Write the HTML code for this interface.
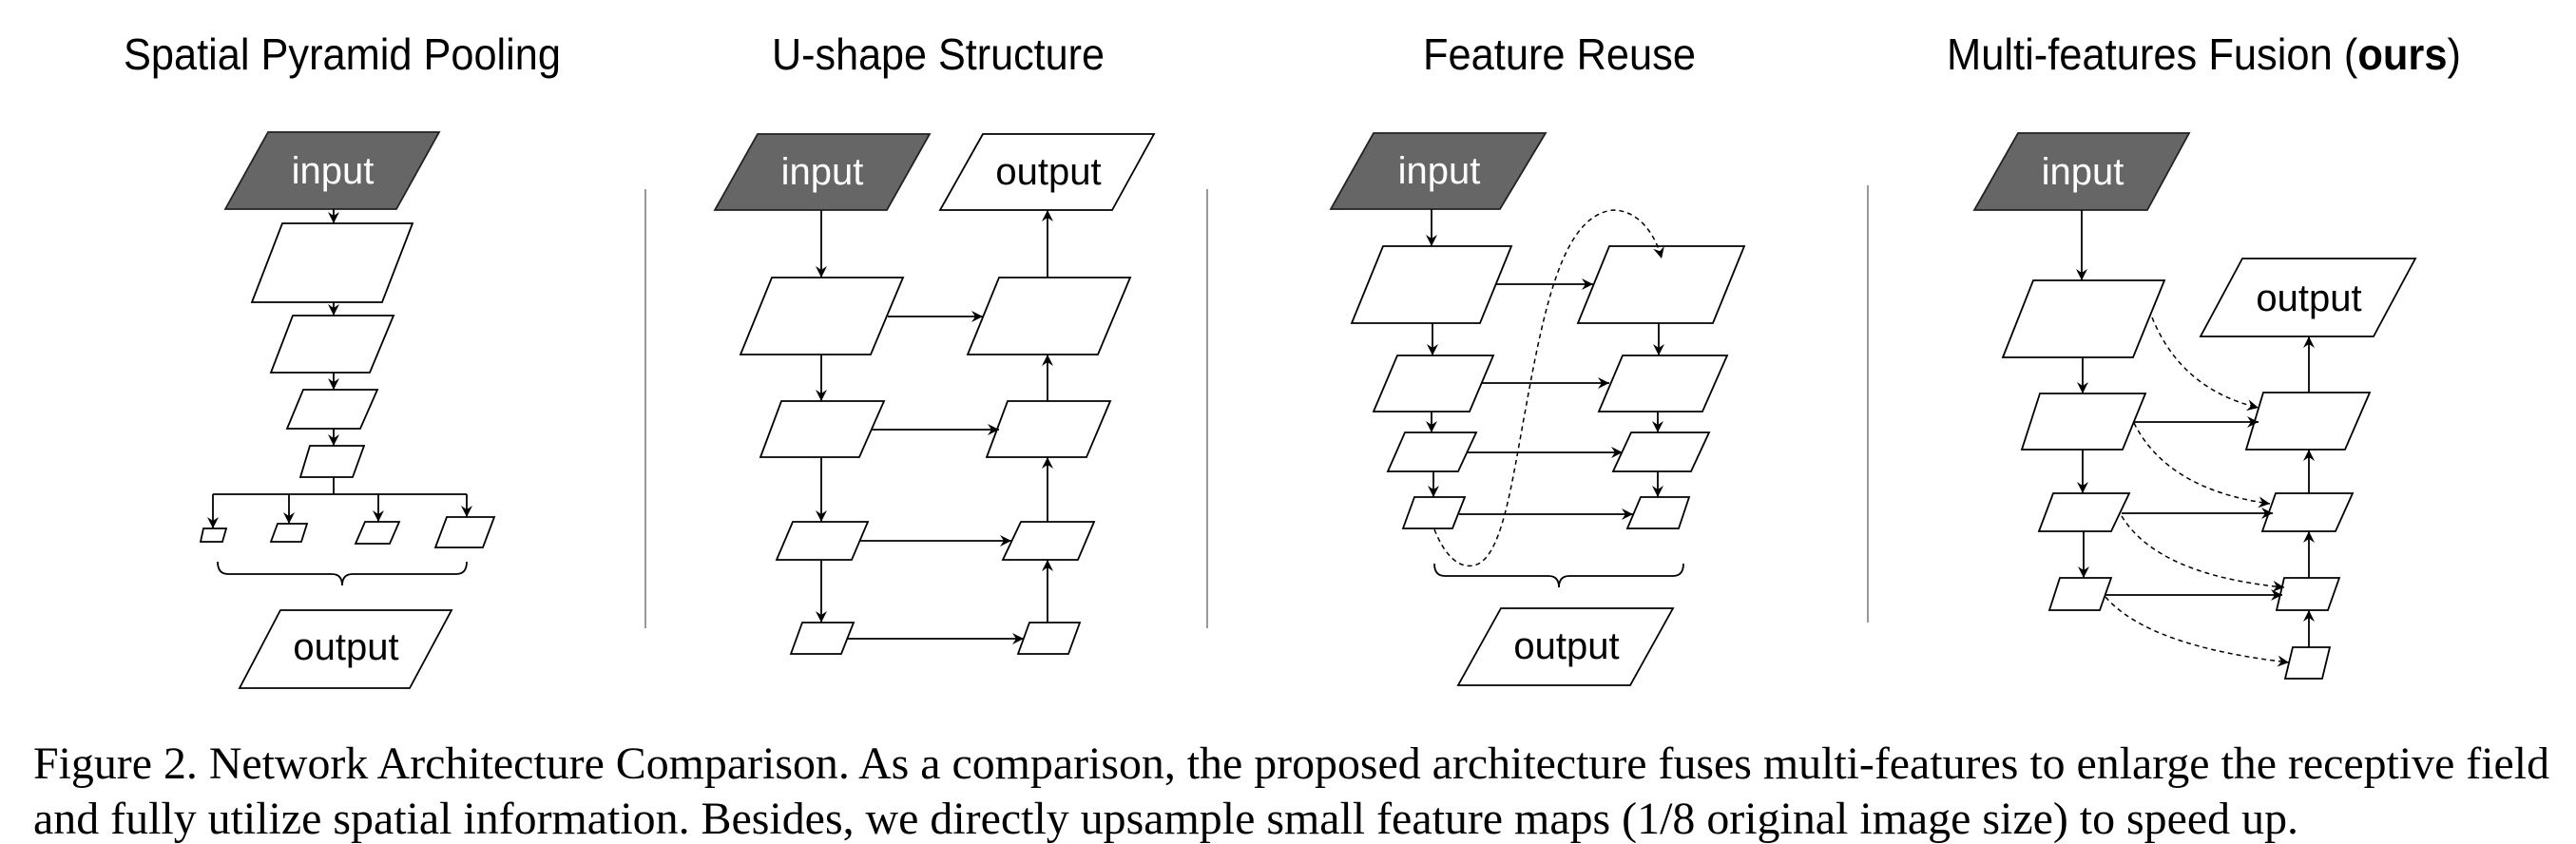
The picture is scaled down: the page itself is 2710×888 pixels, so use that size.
<!DOCTYPE html>
<html><head><meta charset="utf-8"><style>
html,body{margin:0;padding:0;background:#fff;}
svg{display:block;}
</style></head><body>
<svg width="2710" height="888" viewBox="0 0 2710 888" xmlns="http://www.w3.org/2000/svg">
<defs>
<marker id="a" markerWidth="14" markerHeight="12" refX="12" refY="6" orient="auto" markerUnits="userSpaceOnUse">
<path d="M0,0 L12,6 L0,12 L4,6 z" fill="#000"/>
</marker>
</defs>
<g font-family="Liberation Sans, Arial, sans-serif" fill="#000">
<text x="130" y="73" font-size="46" textLength="460" lengthAdjust="spacingAndGlyphs">Spatial Pyramid Pooling</text>
<text x="812" y="73" font-size="46" textLength="350" lengthAdjust="spacingAndGlyphs">U-shape Structure</text>
<text x="1497" y="73" font-size="46" textLength="287" lengthAdjust="spacingAndGlyphs">Feature Reuse</text>
<text x="2048" y="73" font-size="46" textLength="541" lengthAdjust="spacingAndGlyphs">Multi-features Fusion (<tspan font-weight="bold">ours</tspan>)</text>
</g>
<g stroke="#999" stroke-width="2">
<line x1="679" y1="199" x2="679" y2="661"/>
<line x1="1270" y1="199" x2="1270" y2="661"/>
<line x1="1965" y1="195" x2="1965" y2="655"/>
</g>
<g stroke="#000" stroke-width="1.8" fill="#fff">
<polygon points="282,139 462,139 417,220 237,220" fill="#666" stroke="#222"/>
<polygon points="297,235 434,235 402,318 265,318"/>
<polygon points="308,332 414,332 389,392 285,392"/>
<polygon points="319,410 397,410 379,451 302,451"/>
<polygon points="326,469 383,469 371,502 316,502"/>
<polygon points="214,556 238,556 234,570 211,570"/>
<polygon points="292,551 323,551 317,570 285,570"/>
<polygon points="384,549 420,549 410,572 374,572"/>
<polygon points="470,544 520,544 508,576 458,576"/>
<polygon points="295,642 475,642 431,724 252,724"/>
<polygon points="797,141 978,141 933,221 752,221" fill="#666" stroke="#222"/>
<polygon points="1034,141 1214,141 1170,221 989,221"/>
<polygon points="812,292 950,292 916,373 779,373"/>
<polygon points="1051,292 1189,292 1155,373 1018,373"/>
<polygon points="822,422 930,422 904,481 800,481"/>
<polygon points="1060,422 1168,422 1143,481 1038,481"/>
<polygon points="834,549 913,549 896,589 817,589"/>
<polygon points="1074,549 1151,549 1134,589 1055,589"/>
<polygon points="844,655 898,655 885,688 832,688"/>
<polygon points="1083,655 1136,655 1124,688 1071,688"/>
<polygon points="1445,140 1626,140 1578,220 1400,220" fill="#666" stroke="#222"/>
<polygon points="1455,259 1590,259 1557,340 1422,340"/>
<polygon points="1693,259 1835,259 1802,340 1660,340"/>
<polygon points="1470,374 1571,374 1546,433 1445,433"/>
<polygon points="1707,374 1817,374 1791,433 1682,433"/>
<polygon points="1478,455 1553,455 1534,496 1460,496"/>
<polygon points="1716,455 1798,455 1779,496 1697,496"/>
<polygon points="1488,523 1541,523 1528,556 1476,556"/>
<polygon points="1726,523 1777,523 1766,556 1712,556"/>
<polygon points="1579,640 1760,640 1715,721 1534,721"/>
<polygon points="2123,140 2303,140 2259,221 2077,221" fill="#666" stroke="#222"/>
<polygon points="2139,295 2277,295 2244,376 2107,376"/>
<polygon points="2146,414 2257,414 2233,473 2127,473"/>
<polygon points="2160,519 2240,519 2221,559 2145,559"/>
<polygon points="2167,608 2221,608 2209,642 2156,642"/>
<polygon points="2359,272 2541,272 2497,354 2315,354"/>
<polygon points="2381,413 2493,413 2467,473 2363,473"/>
<polygon points="2394,519 2475,519 2457,559 2380,559"/>
<polygon points="2403,608 2461,608 2449,642 2395,642"/>
<polygon points="2412,681 2451,681 2443,714 2404,714"/>
</g>
<g stroke="#000" stroke-width="1.8" fill="none" marker-end="url(#a)">
<line x1="351" y1="220" x2="351" y2="235"/>
<line x1="351" y1="318" x2="351" y2="332"/>
<line x1="351" y1="392" x2="351" y2="410"/>
<line x1="351" y1="451" x2="351" y2="469"/>
<line x1="224" y1="520" x2="224" y2="556"/>
<line x1="304" y1="520" x2="304" y2="551"/>
<line x1="398" y1="520" x2="398" y2="549"/>
<line x1="491" y1="520" x2="491" y2="544"/>
<line x1="864" y1="221" x2="864" y2="292"/>
<line x1="864" y1="373" x2="864" y2="422"/>
<line x1="864" y1="481" x2="864" y2="549"/>
<line x1="864" y1="589" x2="864" y2="655"/>
<line x1="1102" y1="292" x2="1102" y2="221"/>
<line x1="1102" y1="422" x2="1102" y2="373"/>
<line x1="1102" y1="549" x2="1102" y2="481"/>
<line x1="1102" y1="655" x2="1102" y2="589"/>
<line x1="934" y1="333" x2="1034" y2="333"/>
<line x1="917" y1="452" x2="1051" y2="452"/>
<line x1="905" y1="569" x2="1064" y2="569"/>
<line x1="892" y1="672" x2="1077" y2="672"/>
<line x1="1506" y1="220" x2="1506" y2="259"/>
<line x1="1507" y1="340" x2="1507" y2="374"/>
<line x1="1506" y1="433" x2="1506" y2="455"/>
<line x1="1508" y1="496" x2="1508" y2="523"/>
<line x1="1745" y1="340" x2="1745" y2="374"/>
<line x1="1744" y1="433" x2="1744" y2="455"/>
<line x1="1744" y1="496" x2="1744" y2="523"/>
<line x1="1574" y1="299" x2="1676" y2="299"/>
<line x1="1559" y1="403" x2="1693" y2="403"/>
<line x1="1543" y1="476" x2="1707" y2="476"/>
<line x1="1535" y1="541" x2="1718" y2="541"/>
<path d="M1509,557 C1520,585 1535,598 1550,595 C1580,590 1590,510 1605,430 C1625,320 1645,225 1698,221 C1725,222 1742,248 1748,272" stroke-dasharray="5,4" stroke-width="1.5"/>
<line x1="2190" y1="221" x2="2190" y2="295"/>
<line x1="2191" y1="376" x2="2191" y2="414"/>
<line x1="2191" y1="473" x2="2191" y2="519"/>
<line x1="2192" y1="559" x2="2192" y2="608"/>
<line x1="2429" y1="413" x2="2429" y2="354"/>
<line x1="2429" y1="519" x2="2429" y2="473"/>
<line x1="2429" y1="608" x2="2429" y2="559"/>
<line x1="2429" y1="681" x2="2429" y2="642"/>
<line x1="2245" y1="444" x2="2376" y2="444"/>
<line x1="2232" y1="540" x2="2391" y2="540"/>
<line x1="2215" y1="626" x2="2401" y2="626"/>
<path d="M2264,334 Q2295,410 2376,429" stroke-dasharray="5,4" stroke-width="1.5"/>
<path d="M2245,445 Q2280,515 2388,530" stroke-dasharray="5,4" stroke-width="1.5"/>
<path d="M2232,543 Q2270,605 2403,618" stroke-dasharray="5,4" stroke-width="1.5"/>
<path d="M2215,628 Q2260,680 2408,697" stroke-dasharray="5,4" stroke-width="1.5"/>
</g>
<g stroke="#000" stroke-width="1.8" fill="none">
<line x1="351" y1="502" x2="351" y2="520"/>
<line x1="224" y1="520" x2="491" y2="520"/>
<path d="M229,591 Q229,604 240,604 L349,604 Q360,604 360,616 Q360,604 371,604 L480,604 Q491,604 491,591"/>
<path d="M1509,593 Q1509,606 1520,606 L1629,606 Q1640,606 1640,618 Q1640,606 1651,606 L1760,606 Q1771,606 1771,593"/>
</g>
<g font-family="Liberation Sans, Arial, sans-serif" font-size="40" text-anchor="middle">
<text x="350" y="193" fill="#fff">input</text>
<text x="865" y="194" fill="#fff">input</text>
<text x="1514" y="193" fill="#fff">input</text>
<text x="2191" y="194" fill="#fff">input</text>
<text x="364" y="694">output</text>
<text x="1103" y="194">output</text>
<text x="1648" y="693">output</text>
<text x="2429" y="327">output</text>
</g>
<g font-family="Liberation Serif, Times New Roman, serif" font-size="48" fill="#000">
<text x="35" y="819" textLength="2647" lengthAdjust="spacingAndGlyphs">Figure 2. Network Architecture Comparison. As a comparison, the proposed architecture fuses multi-features to enlarge the receptive field</text>
<text x="35" y="877" textLength="2383" lengthAdjust="spacingAndGlyphs">and fully utilize spatial information. Besides, we directly upsample small feature maps (1/8 original image size) to speed up.</text>
</g>
</svg>
</body></html>
